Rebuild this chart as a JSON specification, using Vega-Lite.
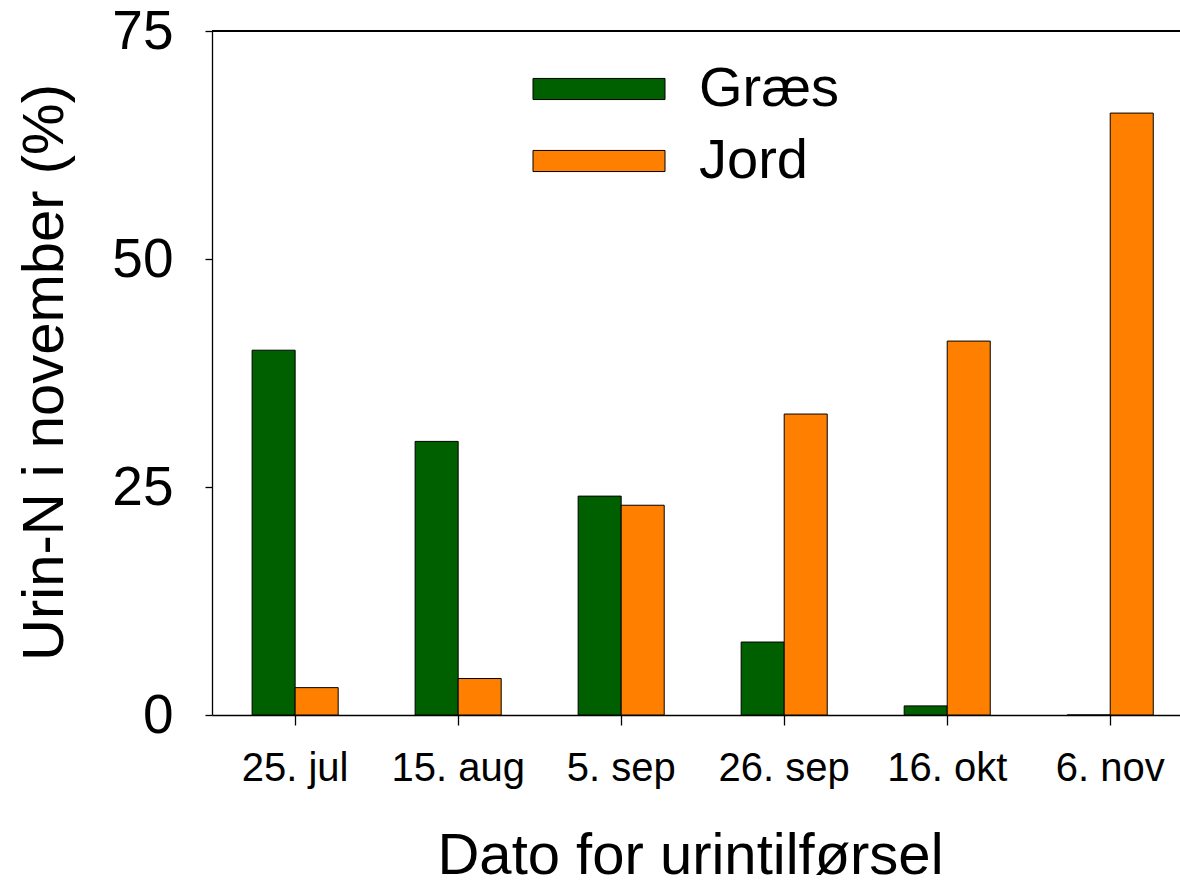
{
  "$schema": "https://vega.github.io/schema/vega-lite/v6.json",
  "width": 968,
  "height": 684,
  "autosize": {"type": "none"},
  "padding": {"left": 212, "top": 31, "right": 0, "bottom": 170},
  "background": "white",
  "config": {
    "font": "Liberation Sans",
    "view": {"stroke": null},
    "axis": {"domainColor": "black", "tickColor": "black", "labelColor": "black", "titleColor": "black", "grid": false, "titleFontWeight": "normal", "domainWidth": 1.3, "tickWidth": 1.3}
  },
  "data": {
    "values": [
      {"dato": "25. jul", "type": "Græs", "pct": 40},
      {"dato": "25. jul", "type": "Jord", "pct": 3},
      {"dato": "15. aug", "type": "Græs", "pct": 30},
      {"dato": "15. aug", "type": "Jord", "pct": 4},
      {"dato": "5. sep", "type": "Græs", "pct": 24},
      {"dato": "5. sep", "type": "Jord", "pct": 23},
      {"dato": "26. sep", "type": "Græs", "pct": 8},
      {"dato": "26. sep", "type": "Jord", "pct": 33},
      {"dato": "16. okt", "type": "Græs", "pct": 1},
      {"dato": "16. okt", "type": "Jord", "pct": 41},
      {"dato": "6. nov", "type": "Græs", "pct": 0},
      {"dato": "6. nov", "type": "Jord", "pct": 66}
    ]
  },
  "layer": [
    {
      "mark": {"type": "bar", "stroke": "black", "strokeWidth": 1, "opacity": 1},
      "encoding": {
        "x": {
          "field": "dato",
          "type": "nominal",
          "sort": ["25. jul", "15. aug", "5. sep", "26. sep", "16. okt", "6. nov"],
          "scale": {"paddingInner": 0.472, "paddingOuter": 0.205, "align": 0.6},
          "axis": {
            "title": "Dato for urintilførsel",
            "titleFontSize": 58,
            "titleBaseline": "alphabetic",
            "titleY": 158,
            "titleX": 478,
            "labelFontSize": 40,
            "labelAngle": 0,
            "labelPadding": 23,
            "tickSize": 10,
            "domain": true
          }
        },
        "xOffset": {"field": "type", "type": "nominal", "sort": ["Græs", "Jord"], "scale": {"paddingInner": 0, "paddingOuter": 0}},
        "y": {
          "field": "pct",
          "type": "quantitative",
          "scale": {"domain": [0, 75], "nice": false},
          "axis": {
            "title": "Urin-N i november (%)",
            "titleFontSize": 58,
            "titleBaseline": "alphabetic",
            "titleX": -150,
            "titleY": 341,
            "titleAngle": -90,
            "values": [0, 25, 50, 75],
            "labelFontSize": 55,
            "labelPadding": 32,
            "tickSize": 7
          }
        },
        "color": {
          "field": "type",
          "type": "nominal",
          "scale": {"domain": ["Græs", "Jord"], "range": ["#006000", "#ff8000"]},
          "legend": {
            "title": null,
            "orient": "none",
            "legendX": 359,
            "legendY": 30,
            "padding": 0,
            "symbolType": "M-4,-0.64H4V0.64H-4Z",
            "symbolSize": 1089,
            "symbolStrokeColor": "black",
            "symbolStrokeWidth": 1,
            "symbolOpacity": 1,
            "labelFontSize": 56,
            "labelOffset": 72,
            "rowPadding": 16,
            "labelColor": "black"
          }
        }
      }
    },
    {
      "mark": {"type": "rule", "color": "black", "strokeWidth": 1.3},
      "encoding": {"y": {"datum": 75}}
    }
  ]
}
